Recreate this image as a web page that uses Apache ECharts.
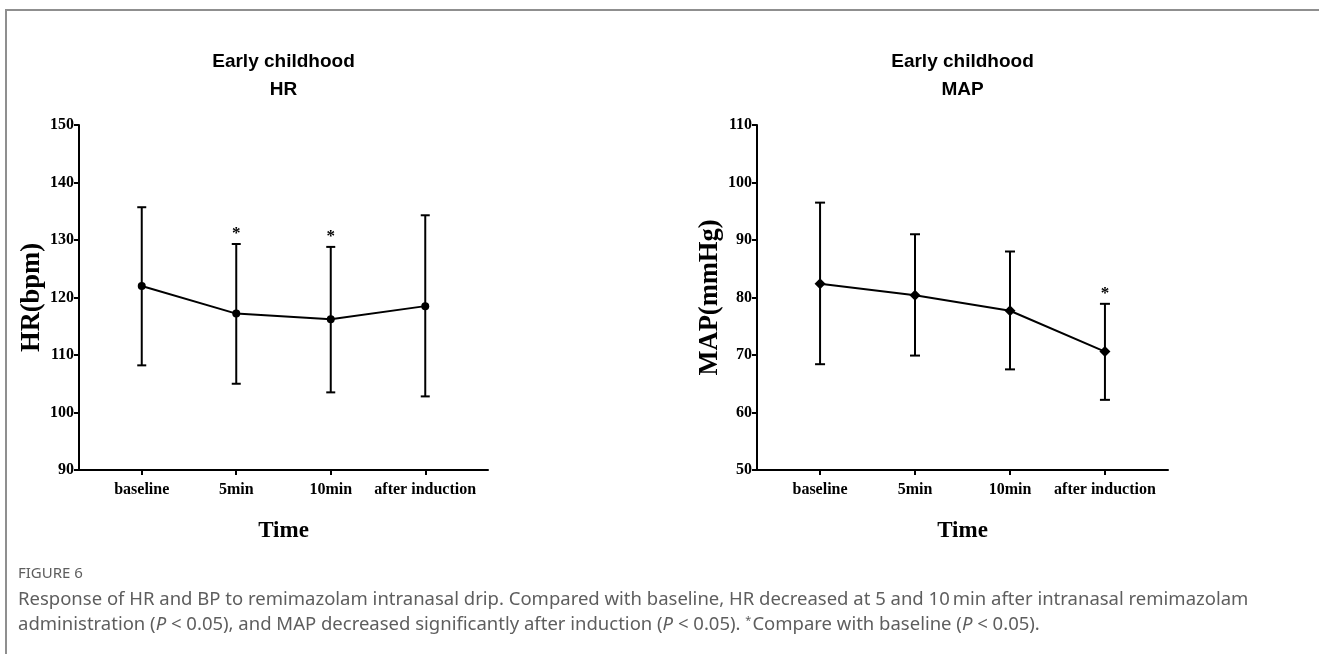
<!DOCTYPE html>
<html>
<head>
<meta charset="utf-8">
<title>Early childhood HR and MAP</title>
<script src="https://cdn.jsdelivr.net/npm/echarts@6/dist/echarts.min.js"></script>
<style>
  html, body { margin: 0; padding: 0; background: #fff; }
  #chart { width: 1319px; height: 654px; }
</style>
</head>
<body>
<div id="chart"></div>
<script>
// Time points shared by both panels
const categories = ['baseline', '5min', '10min', 'after induction'];

// Heart rate (bpm): mean with lower / upper error limits
const hrMean  = [122.0, 117.2, 116.2, 118.5];
const hrLower = [108.2, 105.0, 103.5, 102.8];
const hrUpper = [135.7, 129.3, 128.8, 134.3];
const hrSignificant = [false, true, true, false];

// Mean arterial pressure (mmHg): mean with lower / upper error limits
const mapMean  = [82.4, 80.4, 77.7, 70.6];
const mapLower = [68.4, 69.9, 67.5, 62.2];
const mapUpper = [96.5, 91.0, 88.0, 78.9];
const mapSignificant = [false, false, false, true];

// Y axis ranges
const hrAxis  = { min: 90, max: 150, interval: 10 };
const mapAxis = { min: 50, max: 110, interval: 10 };

const SERIF = "'Liberation Serif', 'Times New Roman', serif";
const SANS = "'Liberation Sans', Arial, sans-serif";
const CAPTION = "'Noto Sans', 'Open Sans', sans-serif";
const categoryPositions = categories.map((c, i) => i);

function xAxisFor(gridIndex) {
  return {
    gridIndex,
    type: 'value',
    min: -0.664,
    max: 3.664,
    axisLine: { show: true, onZero: false, lineStyle: { color: '#000', width: 2 } },
    axisTick: { show: true, customValues: categoryPositions, length: 5, lineStyle: { color: '#000', width: 2 } },
    axisLabel: {
      customValues: categoryPositions,
      formatter: v => categories[Math.round(v)],
      color: '#000', fontFamily: SERIF, fontWeight: 'bold', fontSize: 16, margin: 12
    },
    splitLine: { show: false },
    name: 'Time',
    nameLocation: 'middle',
    nameGap: 50,
    nameTextStyle: { color: '#000', fontFamily: SERIF, fontWeight: 'bold', fontSize: 23 }
  };
}

function yAxisFor(gridIndex, range, title) {
  return {
    gridIndex,
    type: 'value',
    min: range.min,
    max: range.max,
    interval: range.interval,
    axisLine: { show: true, onZero: false, lineStyle: { color: '#000', width: 2 } },
    axisTick: { show: true, length: 5, lineStyle: { color: '#000', width: 2 } },
    axisLabel: { color: '#000', fontFamily: SERIF, fontWeight: 'bold', fontSize: 16, margin: 5 },
    splitLine: { show: false },
    name: title,
    nameLocation: 'middle',
    nameRotate: 90,
    nameGap: 29,
    nameTextStyle: { color: '#000', fontFamily: SERIF, fontWeight: 'bold', fontSize: 26.5 }
  };
}

// Error bars with caps, plus a significance star above the upper cap
function errorBars(axisIndex, lower, upper, significant, capHalf) {
  return {
    type: 'custom',
    xAxisIndex: axisIndex,
    yAxisIndex: axisIndex,
    silent: true,
    z: 2,
    data: categories.map((c, i) => [i, lower[i], upper[i], significant[i] ? 1 : 0]),
    renderItem: (params, api) => {
      const x = api.value(0);
      const lo = api.coord([x, api.value(1)]);
      const hi = api.coord([x, api.value(2)]);
      const stroke = { stroke: '#000', lineWidth: 2 };
      const children = [
        { type: 'line', shape: { x1: hi[0], y1: hi[1], x2: lo[0], y2: lo[1] }, style: stroke },
        { type: 'line', shape: { x1: hi[0] - capHalf, y1: hi[1], x2: hi[0] + capHalf, y2: hi[1] }, style: stroke },
        { type: 'line', shape: { x1: lo[0] - capHalf, y1: lo[1], x2: lo[0] + capHalf, y2: lo[1] }, style: stroke }
      ];
      if (api.value(3)) {
        children.push({
          type: 'text', x: hi[0], y: hi[1] - 10,
          style: { text: '*', textAlign: 'center', textVerticalAlign: 'middle',
                   font: 'bold 17px ' + SERIF, fill: '#000' }
        });
      }
      return { type: 'group', children };
    }
  };
}

function meanLine(axisIndex, mean, symbol, symbolSize) {
  return {
    type: 'line',
    xAxisIndex: axisIndex,
    yAxisIndex: axisIndex,
    data: mean.map((m, i) => [i, m]),
    symbol,
    symbolSize,
    showAllSymbol: true,
    itemStyle: { color: '#000' },
    lineStyle: { color: '#000', width: 2 },
    z: 3
  };
}

const grids = [
  { left: 79, top: 125, width: 409, height: 345 },
  { left: 757, top: 125, width: 411, height: 345 }
];

const captionRich = {
  i: { fontStyle: 'italic', fontFamily: CAPTION, fontSize: 18.5, fill: '#5e5e5e' },
  sup: { fontFamily: CAPTION, fontSize: 11, fill: '#5e5e5e', padding: [0, 1, 9, 0] }
};

const option = {
  animation: false,
  backgroundColor: '#fff',
  grid: grids,
  xAxis: [xAxisFor(0), xAxisFor(1)],
  yAxis: [yAxisFor(0, hrAxis, 'HR(bpm)'), yAxisFor(1, mapAxis, 'MAP(mmHg)')],
  series: [
    errorBars(0, hrLower, hrUpper, hrSignificant, 4.5),
    meanLine(0, hrMean, 'circle', 8),
    errorBars(1, mapLower, mapUpper, mapSignificant, 5),
    meanLine(1, mapMean, 'diamond', [11, 11])
  ],
  graphic: [
    // figure frame
    { type: 'line', shape: { x1: 6, y1: 10, x2: 6, y2: 654 }, style: { stroke: '#8f8f8f', lineWidth: 2 } },
    { type: 'line', shape: { x1: 5, y1: 10, x2: 1319, y2: 10 }, style: { stroke: '#8f8f8f', lineWidth: 2 } },
    // panel titles
    { type: 'text', x: 283.5, y: 76, style: { text: 'Early childhood\nHR', textAlign: 'center', textVerticalAlign: 'middle',
        font: 'bold 19px ' + SANS, lineHeight: 28, fill: '#000' } },
    { type: 'text', x: 962.5, y: 76, style: { text: 'Early childhood\nMAP', textAlign: 'center', textVerticalAlign: 'middle',
        font: 'bold 19px ' + SANS, lineHeight: 28, fill: '#000' } },
    // caption
    { type: 'text', x: 18, y: 574, style: { text: 'FIGURE 6', textVerticalAlign: 'middle',
        font: '15px ' + CAPTION, fill: '#5e5e5e' } },
    { type: 'text', x: 18, y: 600, style: {
        text: 'Response of HR and BP to remimazolam intranasal drip. Compared with baseline, HR decreased at 5 and 10\u2009min after intranasal remimazolam',
        textVerticalAlign: 'middle', font: '18.5px ' + CAPTION, fill: '#5e5e5e' } },
    { type: 'text', x: 18, y: 625, style: {
        text: 'administration ({i|P} < 0.05), and MAP decreased significantly after induction ({i|P} < 0.05). {sup|*}Compare with baseline ({i|P} < 0.05).',
        rich: captionRich, textVerticalAlign: 'middle', font: '18.5px ' + CAPTION, fill: '#5e5e5e' } }
  ]
};

const chart = echarts.init(document.getElementById('chart'), null, { renderer: 'canvas' });
chart.setOption(option);
</script>
</body>
</html>
